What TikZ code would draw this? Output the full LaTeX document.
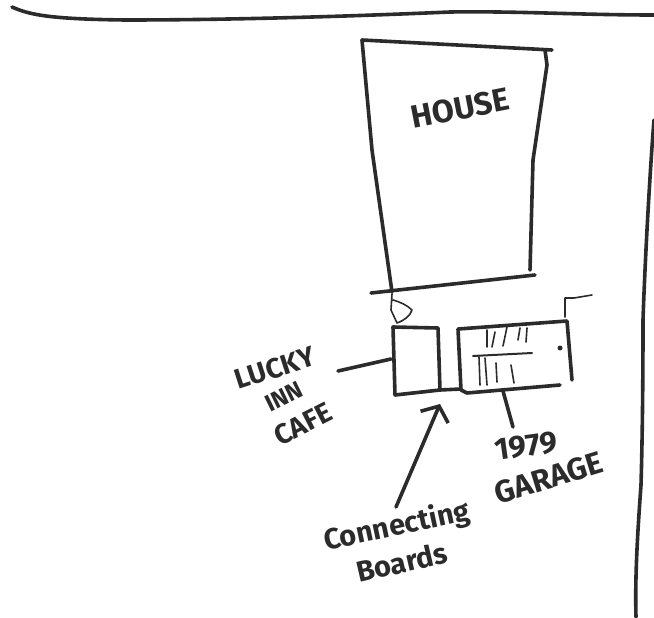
\documentclass[tikz,border=0pt]{standalone}
\usepackage{fontspec}
\setmainfont{Fira Sans}
\usetikzlibrary{arrows.meta, positioning}
\definecolor{sink}{HTML}{2B2B2B}
\tikzset{
  pen/.style={draw=sink, line width=#1, line cap=round, line join=round},
  pen/.default=3.6pt,
  fine/.style={draw=sink, line width=1.6pt, line cap=round, line join=round},
  lab/.style={font=\fontsize{#1}{#1}\selectfont\bfseries, text=sink, inner sep=0pt},
  lab/.default=24,
  arr/.style={-{Straight Barb[length=12pt,width=30pt,line width=3.6pt]}, pen}
}
\begin{document}
\begin{tikzpicture}[x=1pt,y=-1pt]
  \useasboundingbox (0,0) rectangle (654,618);
  % road edges
  \draw[pen] (12,7) .. controls (30,15) and (50,19) .. (125,20) .. controls (250,20) and (380,15) .. (450,12) .. controls (520,11) and (580,15) .. (654,15);
  \draw[pen] (654,120) .. controls (650,170) and (645,260) .. (643,320) .. controls (643,400) and (642,450) .. (641,485) .. controls (637,540) and (635,580) .. (636,617);
  % house
  \draw[pen] (362,40) -- (552,50);
  \draw[pen] (362,40) -- (372,150) -- (392,292);
  \draw[pen] (545,50) -- (547,65) -- (533,160) -- (530,270);
  \draw[pen] (371,293) -- (535,275);
  \node[lab=32,rotate=11] (house) at (460,108) {HOUSE};
  % door
  \draw[fine] (392,294) -- (391,310) -- (397,323) .. controls (405,320) and (410,316) .. (412,310) .. controls (407,305) and (400,302) .. (393,300);
  % cafe
  \coordinate (cafeL) at (391,359);
  \draw[pen] (393,327) -- (438,328) -- (440,390) -- (395,395) -- cycle;
  % link between the two
  \draw[pen] (440,390) -- (461,389);
  \coordinate (boardsEnd) at (440,404);
  % garage
  \coordinate (garageB) at (503,391);
  \draw[pen] (560,385) -- (467,393) -- (461,390) -- (458,329) -- (567,321) -- (572,380);
  \draw[fine] (565,317) -- (565,298) -- (574,298) -- (592,295);
  \draw[pen=2pt] (473,356) -- (532,353);
  \foreach \xa/\ya/\xb/\yb in {487/330/487/347, 495/332/492/347, 507/327/503/346, 520/328/518/340, 527/328/526/342, 479/357/480/385, 485/358/487/385, 496/363/497/382, 511/365/514/383} {
    \draw[fine] (\xa,\ya) -- (\xb,\yb);
  }
  \fill[sink] (560,348) circle (2.5pt);
  % labels
  \node[lab=28,rotate=18] (lucky) at (275,368) {LUCKY};
  \node[lab=24,rotate=26] (inn) at (284,397) {INN};
  \node[lab=28,rotate=27] (cafe) at (303,424) {CAFE};
  \node[lab=31,rotate=8] (year) at (526,446) {1979};
  \node[lab=31,rotate=17] (garage) at (549,478) {GARAGE};
  \node[lab=29,rotate=12] (connecting) at (397,527) {Connecting};
  \node[lab=29,rotate=13] (boards) at (402,562) {Boards};
  % leaders
  \coordinate (luckyEnd) at (338,371);
  \coordinate (yearEnd) at (513,427);
  \coordinate (connEnd) at (396,507);
  \draw[pen] (luckyEnd) -- (cafeL);
  \draw[pen] (garageB) -- (yearEnd);
  \draw[arr] (connEnd) -- (boardsEnd);
\end{tikzpicture}
\end{document}
